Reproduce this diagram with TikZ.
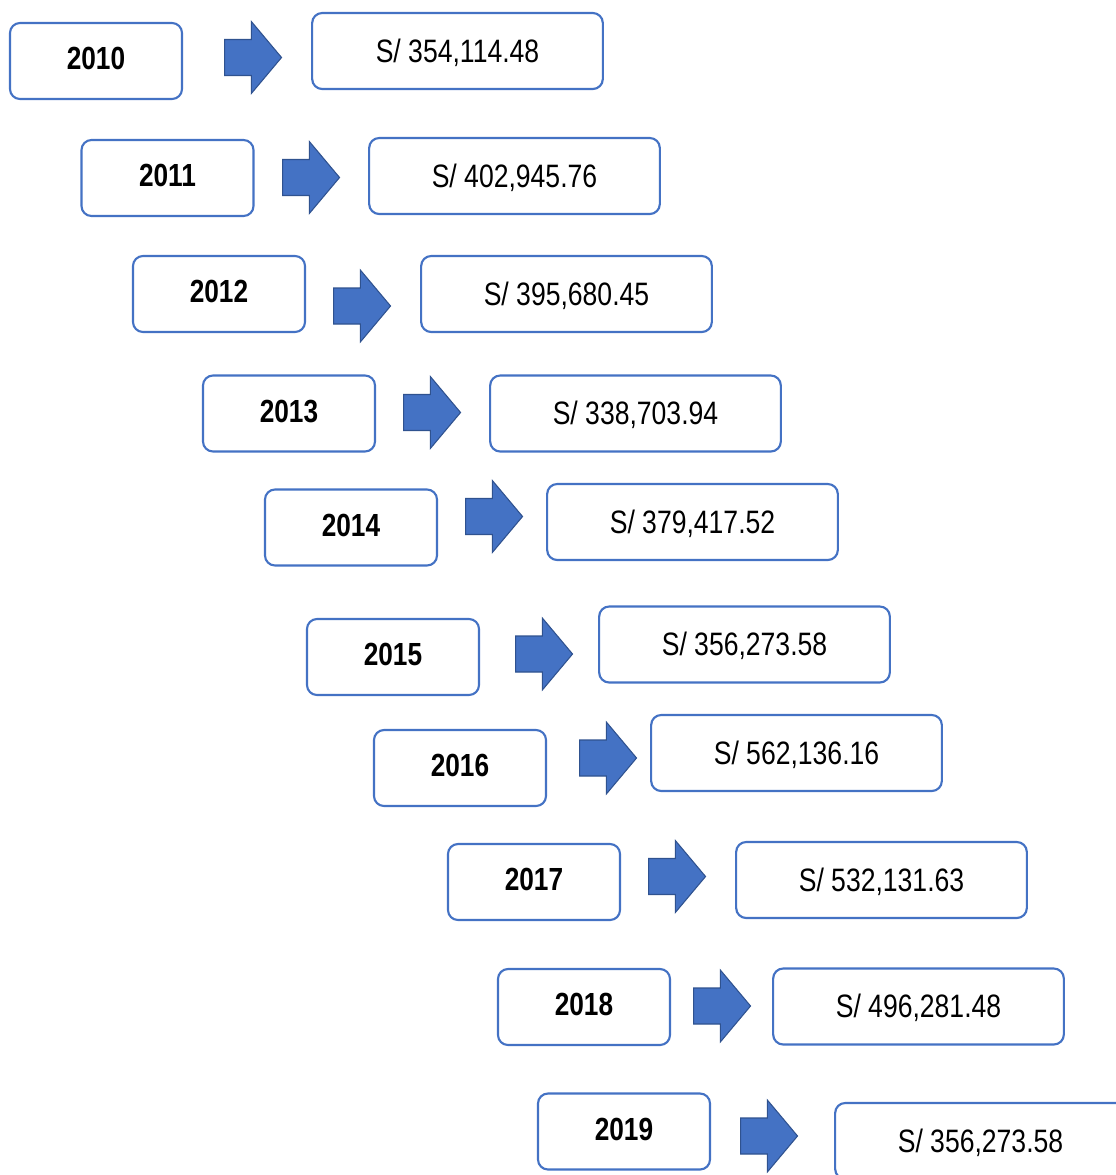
\documentclass[tikz,border=0pt]{standalone}
\usepackage{fontspec}
\setmainfont{Liberation Sans}[FakeStretch=0.82]
\usepackage{tikz}
\usetikzlibrary{shapes.arrows}
\definecolor{boxline}{HTML}{4472C4}
\definecolor{arrowline}{HTML}{2F528F}
\tikzset{
    year/.style={draw=boxline, line width=1.6pt, rounded corners=7.5pt,
        fill=white, minimum width=129pt, minimum height=57pt,
        text depth=4pt, font=\fontsize{24}{27}\selectfont\bfseries},
    amount/.style={draw=boxline, line width=1.6pt, rounded corners=7.5pt,
        fill=white, minimum width=218pt, minimum height=57pt,
        text depth=1pt, font=\fontsize{24.3}{27}\selectfont},
    fwd/.style={single arrow, draw=arrowline, fill=boxline, line width=0.8pt,
        minimum height=42.75pt, inner xsep=0pt, inner ysep=13.1pt,
        single arrow head extend=13.5pt, single arrow tip angle=100,
        anchor=tail} }

\begin{document}
\begin{tikzpicture}[x=0.75pt, y=-0.75pt]
      \useasboundingbox (0,0) rectangle (1116,1175);
      \clip (0,0) rectangle (1116,1175);
      % ---- years
      \node[year] (y10) at (96,61) {2010};
      \node[year] (y11) at (167.5,178) {2011};
      \node[year] (y12) at (219,294) {2012};
      \node[year] (y13) at (289,413.5) {2013};
      \node[year] (y14) at (351,527.5) {2014};
      \node[year] (y15) at (393,657) {2015};
      \node[year] (y16) at (460,768) {2016};
      \node[year] (y17) at (534,882) {2017};
      \node[year] (y18) at (584,1007) {2018};
      \node[year] (y19) at (624,1131.5) {2019};
      % ---- block arrows
      \node[fwd] (a10) at (224,57.5) {};
      \node[fwd] (a11) at (282,177.5) {};
      \node[fwd] (a12) at (333,306) {};
      \node[fwd] (a13) at (403,412.5) {};
      \node[fwd] (a14) at (465,516.5) {};
      \node[fwd] (a15) at (515,654) {};
      \node[fwd] (a16) at (579,758) {};
      \node[fwd] (a17) at (648,876.5) {};
      \node[fwd] (a18) at (693,1006) {};
      \node[fwd] (a19) at (740,1136) {};
      % ---- amounts
      \node[amount] (v10) at (457.5,51) {S/ 354,114.48};
      \node[amount] (v11) at (514.5,176) {S/ 402,945.76};
      \node[amount] (v12) at (566.5,294) {S/ 395,680.45};
      \node[amount] (v13) at (635.5,413.5) {S/ 338,703.94};
      \node[amount] (v14) at (692.5,522) {S/ 379,417.52};
      \node[amount] (v15) at (744.5,644.5) {S/ 356,273.58};
      \node[amount] (v16) at (796.5,753) {S/ 562,136.16};
      \node[amount] (v17) at (881.5,880) {S/ 532,131.63};
      \node[amount] (v18) at (918.5,1006.5) {S/ 496,281.48};
      \node[amount] (v19) at (980.5,1141) {S/ 356,273.58};
    \end{tikzpicture}
\end{document}
